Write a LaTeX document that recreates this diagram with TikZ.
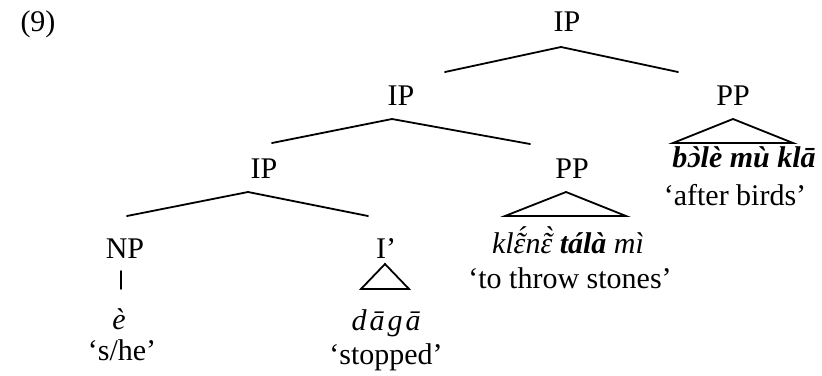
\documentclass[tikz,border=0pt]{standalone}
\usepackage{fontspec}
\setmainfont{Liberation Serif}[Ligatures=TeXOff]
\newcommand\putacc[4]{\leavevmode\setbox0=\hbox{#1}\rlap{\hbox to\wd0{\hss\kern#3\raisebox{#4}{#2}\hss}}\box0}
\tikzset{
  lbl/.style={anchor=base, inner sep=0pt, font=\fontsize{30}{36}\selectfont},
  br/.style={line width=1.8pt, line cap=round, line join=miter},
  tri/.style={line width=1.8pt, line join=miter}
}
\begin{document}
\begin{tikzpicture}[x=1pt,y=-1pt]
\useasboundingbox (0,0) rectangle (822,375);
% labels
\node[lbl] (ex) at (38,31) {(9)};
\node[lbl] (ip1) at (567,31) {IP};
\node[lbl] (ip2) at (401,105) {IP};
\node[lbl] (pp1) at (733,105) {PP};
\node[lbl] (ip3) at (264,178) {IP};
\node[lbl] (pp2) at (572,178) {PP};
\node[lbl] (np) at (125,258) {NP};
\node[lbl] (ib) at (386,258) {I’};
% terminals
\node[lbl] (w1) at (744,167) {\bfseries\itshape b\putacc{ɔ}{`}{2pt}{0pt}lè mù klā};
\node[lbl] (g1) at (735,205) {‘after birds’};
\node[lbl] (w2) at (568,253) {\itshape kl\putacc{\putacc{ɛ}{˜}{1.5pt}{0pt}}{´}{3pt}{6pt}n\putacc{\putacc{ɛ}{˜}{1.5pt}{0pt}}{`}{3pt}{6pt}\ \textbf{tálà} mì};
\node[lbl] (g2) at (570,288) {‘to throw stones’};
\node[lbl] (w3) at (119,329) {\itshape è};
\node[lbl] (g3) at (122,360) {‘s/he’};
\node[lbl] (w4) at (386,330) {\itshape d\kern3pt ā\kern3pt g\kern3pt ā};
\node[lbl] (g4) at (386,364) {‘stopped’};
% branch points
\coordinate (a1) at (561,47);
\coordinate (l1) at (445,72);
\coordinate (r1) at (678,72);
\coordinate (a2) at (392,119);
\coordinate (l2) at (272,143);
\coordinate (r2) at (530,144);
\coordinate (a3) at (248,192);
\coordinate (l3) at (127,216);
\coordinate (r3) at (368,216);
\coordinate (v1) at (121,271);
\coordinate (v2) at (121,289);
% triangles
\coordinate (t1a) at (733,119);
\coordinate (t1l) at (673,143);
\coordinate (t1r) at (793,143);
\coordinate (t2a) at (566,192);
\coordinate (t2l) at (505,216);
\coordinate (t2r) at (626,216);
\coordinate (t3a) at (385,264);
\coordinate (t3l) at (361,289);
\coordinate (t3r) at (409,289);
% connectors
\draw[br] (l1) -- (a1) -- (r1);
\draw[br] (l2) -- (a2) -- (r2);
\draw[br] (l3) -- (a3) -- (r3);
\draw[br] (v1) -- (v2);
\draw[tri] (t1l) -- (t1a) -- (t1r) -- cycle;
\draw[tri] (t2l) -- (t2a) -- (t2r) -- cycle;
\draw[tri] (t3l) -- (t3a) -- (t3r) -- cycle;
\end{tikzpicture}
\end{document}
